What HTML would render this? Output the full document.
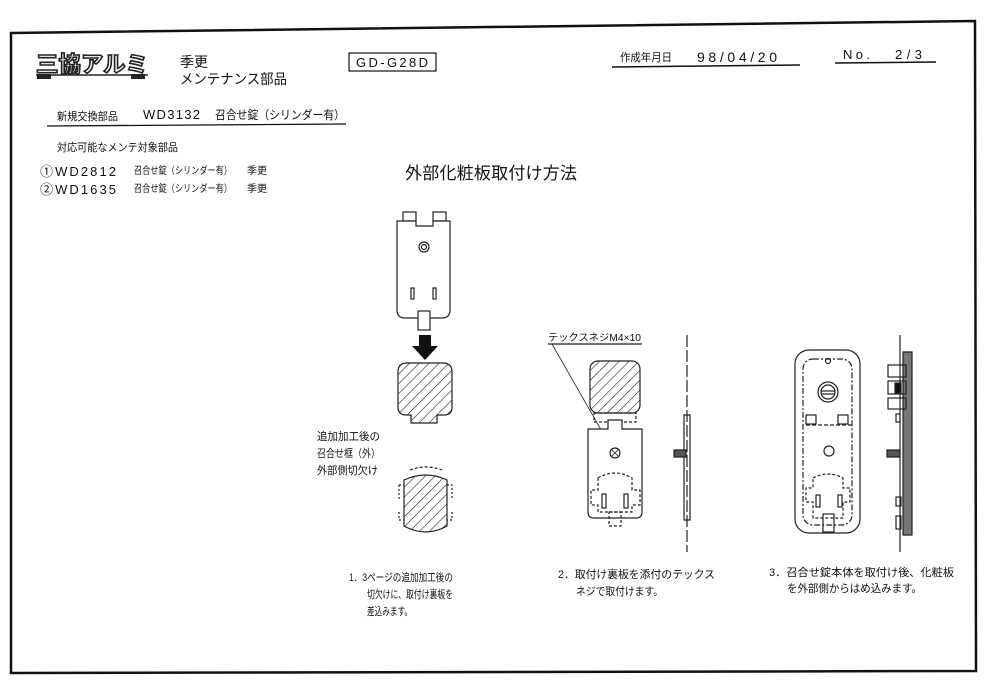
<!DOCTYPE html>
<html><head><meta charset="utf-8"><style>
html,body{margin:0;padding:0;background:#fff;}
svg{display:block;}
text{font-family:"Liberation Sans","Noto Sans CJK JP",sans-serif;fill:#111;}
</style></head><body>
<svg width="984" height="692" viewBox="0 0 984 692" xmlns="http://www.w3.org/2000/svg">
<defs>
<pattern id="h" width="7" height="7" patternUnits="userSpaceOnUse" patternTransform="rotate(45)">
<rect width="7" height="7" fill="#fff"/><line x1="0" y1="0" x2="0" y2="7" stroke="#222" stroke-width="1.2"/>
</pattern>
</defs>
<polygon points="11,33 975,21 976,671 11,673" fill="none" stroke="#111" stroke-width="2.5"/>
<!-- logo -->
<line x1="36" y1="75" x2="148" y2="75" stroke="#222" stroke-width="1.5"/>
<text x="36" y="72" font-size="22" font-weight="bold" textLength="112" lengthAdjust="spacingAndGlyphs" style="fill:#fff;stroke:#222;stroke-width:1.6">三協アルミ</text>
<rect x="37" y="74" width="14" height="5" fill="#222"/><rect x="131" y="74" width="14" height="5" fill="#222"/>
<text x="180" y="67" font-size="14">季更</text>
<text x="180" y="84" font-size="14" textLength="107" lengthAdjust="spacingAndGlyphs">メンテナンス部品</text>
<rect x="349" y="53" width="87" height="18" fill="none" stroke="#111" stroke-width="1.2"/>
<text x="356" y="67" font-size="13" textLength="72">GD-G28D</text>
<text x="620" y="61" font-size="11" textLength="52" lengthAdjust="spacingAndGlyphs">作成年月日</text>
<text x="697" y="62" font-size="14" textLength="80">98/04/20</text>
<line x1="612" y1="67" x2="800" y2="65" stroke="#111" stroke-width="1.5"/>
<text x="843" y="59" font-size="13" textLength="27">No.</text>
<text x="895" y="59" font-size="13" textLength="27">2/3</text>
<line x1="835" y1="63" x2="936" y2="62" stroke="#111" stroke-width="1.5"/>
<text x="57" y="120" font-size="11" textLength="61" lengthAdjust="spacingAndGlyphs">新規交換部品</text>
<text x="143" y="119" font-size="13" textLength="57">WD3132</text>
<text x="215" y="119" font-size="12" textLength="130" lengthAdjust="spacingAndGlyphs">召合せ錠（シリンダー有）</text>
<line x1="47" y1="126" x2="346" y2="124" stroke="#111" stroke-width="1.3"/>
<text x="57" y="151" font-size="11" textLength="121" lengthAdjust="spacingAndGlyphs">対応可能なメンテ対象部品</text>
<text x="40" y="176" font-size="13" textLength="76">①WD2812</text>
<text x="40" y="194" font-size="13" textLength="76">②WD1635</text>
<text x="134" y="174" font-size="10" textLength="98" lengthAdjust="spacingAndGlyphs">召合せ錠（シリンダー有）</text>
<text x="134" y="192" font-size="10" textLength="98" lengthAdjust="spacingAndGlyphs">召合せ錠（シリンダー有）</text>
<text x="247" y="174" font-size="10">季更</text>
<text x="247" y="192" font-size="10">季更</text>
<text x="405" y="179" font-size="17" textLength="172">外部化粧板取付け方法</text>
<!-- diagram 1 -->
<g stroke="#222" stroke-width="1.2" fill="none">
<rect x="403" y="212" width="13" height="9"/><rect x="433" y="212" width="13" height="9"/>
<path d="M397,221 H416 V226 H433 V221 H450 V310 Q450,318 442,318 H405 Q397,318 397,310 Z" fill="#fff"/>
<circle cx="424" cy="247" r="5"/><circle cx="424" cy="247" r="2.5"/>
<rect x="411" y="288" width="3" height="11"/><rect x="433" y="288" width="3" height="11"/>
<rect x="418" y="311" width="12" height="19" fill="#fff"/>
<path d="M398,372 Q398,363 407,363 H443 Q452,363 452,372 V407 Q452,415 444,415 H437 V423 H411 V415 H406 Q398,415 398,407 Z" fill="url(#h)"/>
<path d="M404,480 Q426,470 447,480 V526 Q426,538 404,526 Z" fill="url(#h)"/>
<path d="M410,470 Q426,464 442,470" stroke-dasharray="3,2"/>
<path d="M399,485 H404 M399,485 V500 M447,485 H452 V500 M399,512 V520 H404 M452,512 V520 H447" stroke-dasharray="2,2"/>
</g>
<polygon points="419,335 431,335 431,346 438,346 425,360 412,346 419,346" fill="#111"/>
<text x="317" y="440" font-size="11" textLength="63" lengthAdjust="spacingAndGlyphs">追加加工後の</text>
<text x="317" y="457" font-size="11" textLength="63" lengthAdjust="spacingAndGlyphs">召合せ框（外）</text>
<text x="317" y="474" font-size="11" textLength="61" lengthAdjust="spacingAndGlyphs">外部側切欠け</text>
<!-- diagram 2 -->
<g stroke="#222" stroke-width="1.2" fill="none">
<line x1="548" y1="344" x2="642" y2="344"/>
<line x1="552" y1="344" x2="612" y2="449" stroke-width="0.8"/>
<rect x="590" y="361" width="50" height="52" rx="8" fill="url(#h)"/>
<rect x="594" y="413" width="42" height="9" stroke-dasharray="3,2"/>
<path d="M588,429 H608 V420 H622 V429 H642 V512 Q642,518 636,518 H594 Q588,518 588,512 Z" fill="#fff"/>
<circle cx="615" cy="453" r="5"/>
<path d="M611,449 L619,457 M619,449 L611,457" stroke-width="0.8"/>
<path d="M598,478 Q615,468 632,478 V490 H640 V505 H632 V512 H598 V505 H591 V490 H598 Z" stroke-dasharray="3,2"/>
<rect x="602" y="494" width="4" height="14"/><rect x="624" y="494" width="4" height="14"/>
<rect x="609" y="512" width="12" height="14" stroke-dasharray="3,2"/>
<line x1="687" y1="335" x2="687" y2="552" stroke-dasharray="12,3"/>
<path d="M684,415 H690 V520 H684 Z"/>
<path d="M674,450 H686 V457 H674 Z" fill="#555"/>
</g>
<text x="548" y="341" font-size="10" textLength="93" lengthAdjust="spacingAndGlyphs">テックスネジM4×10</text>
<!-- diagram 3 -->
<g stroke="#222" stroke-width="1.2" fill="none">
<rect x="795" y="350" width="65" height="183" rx="14"/>
<rect x="803" y="359" width="49" height="166" rx="10" stroke-dasharray="6,2,2,2"/>
<circle cx="828" cy="361" r="2.5"/>
<circle cx="828" cy="392" r="10"/><circle cx="828" cy="392" r="7"/>
<line x1="821" y1="391" x2="835" y2="391"/><line x1="821" y1="394" x2="835" y2="394"/>
<rect x="806" y="415" width="10" height="9"/><rect x="838" y="415" width="10" height="9"/>
<path d="M806,425 H852" stroke-dasharray="4,2"/>
<circle cx="829" cy="451" r="5"/>
<path d="M813,478 Q828,470 843,478 V488 H850 V502 H843 V518 H813 V502 H806 V488 H813 Z" stroke-dasharray="3,2"/>
<rect x="816" y="495" width="4" height="12"/><rect x="838" y="495" width="4" height="12"/>
<rect x="823" y="514" width="11" height="18"/>
<line x1="900" y1="335" x2="900" y2="552"/>
<path d="M903,352 H912 V535 H903 Z" fill="#777"/>
<rect x="888" y="365" width="18" height="12"/><rect x="888" y="381" width="18" height="13"/><rect x="888" y="398" width="18" height="11"/>
<rect x="895" y="383" width="6" height="10" fill="#111"/>
<rect x="896" y="414" width="4" height="8"/><rect x="896" y="497" width="5" height="9"/><rect x="896" y="516" width="5" height="13"/>
<path d="M887,450 H900 V457 H887 Z" fill="#555"/>
</g>
<!-- steps -->
<text x="349" y="581" font-size="11" textLength="104" lengthAdjust="spacingAndGlyphs">1．3ページの追加加工後の</text>
<text x="367" y="598" font-size="11" textLength="86" lengthAdjust="spacingAndGlyphs">切欠けに、取付け裏板を</text>
<text x="367" y="615" font-size="11" textLength="45" lengthAdjust="spacingAndGlyphs">差込みます。</text>
<text x="558" y="578" font-size="11" textLength="157" lengthAdjust="spacingAndGlyphs">2．取付け裏板を添付のテックス</text>
<text x="576" y="595" font-size="11" textLength="87" lengthAdjust="spacingAndGlyphs">ネジで取付けます。</text>
<text x="769" y="576" font-size="11" textLength="185" lengthAdjust="spacingAndGlyphs">3．召合せ錠本体を取付け後、化粧板</text>
<text x="787" y="592" font-size="11" textLength="135" lengthAdjust="spacingAndGlyphs">を外部側からはめ込みます。</text>
</svg>
</body></html>
